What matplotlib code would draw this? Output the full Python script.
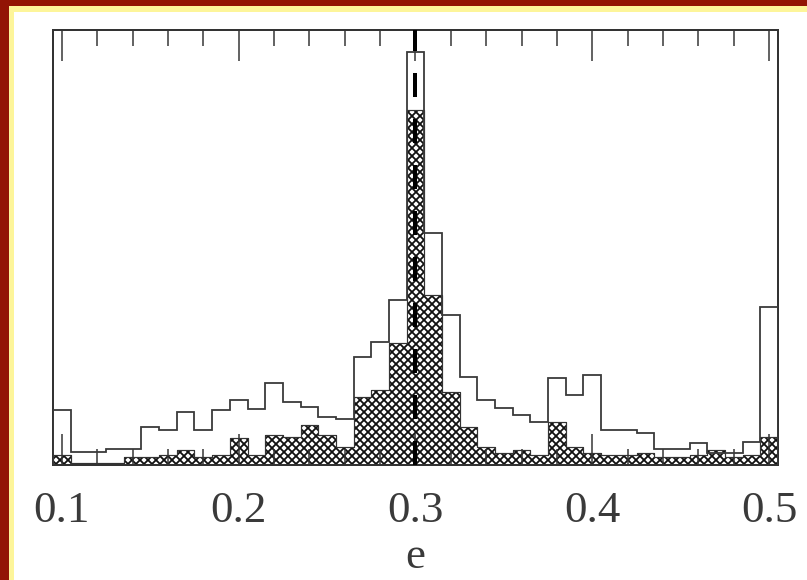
import matplotlib
matplotlib.use("Agg")
import matplotlib.pyplot as plt
import numpy as np
from matplotlib.patches import Rectangle
from matplotlib.ticker import MultipleLocator

# bin centres (eccentricity) and counts
e_centers = np.round(np.arange(0.10, 0.505, 0.01), 2)
all_counts = [55, 13, 13, 16, 16, 38, 35, 53, 35, 55,
              65, 56, 82, 63, 58, 48, 46, 108, 123, 165,
              413, 232, 150, 88, 65, 57, 50, 43, 87, 70,
              90, 35, 35, 32, 16, 16, 22, 12, 12, 23,
              158]
sel_counts = [10, 2, 2, 2, 8, 8, 10, 15, 8, 10,
              27, 10, 30, 28, 40, 30, 18, 68, 75, 122,
              355, 170, 73, 38, 18, 12, 15, 10, 43, 18,
              12, 10, 10, 12, 8, 8, 10, 15, 8, 10,
              28]
e_ref = 0.3
tick_vals = [0.1, 0.2, 0.3, 0.4, 0.5]

edges = np.append(e_centers - 0.005, e_centers[-1] + 0.005)

DPI = 72
plt.rcParams['hatch.linewidth'] = 1.8
plt.rcParams['lines.scale_dashes'] = False

fig = plt.figure(figsize=(807 / DPI, 580 / DPI), dpi=DPI)
fig.patch.set_facecolor('white')

# red / yellow frame along top and left edge
W, H = 807.0, 580.0
fig.patches.append(Rectangle((0, 1 - 11 / H), 1, 11 / H, transform=fig.transFigure,
                             color='#fdf59a', zorder=0))
fig.patches.append(Rectangle((0, 0), 13 / W, 1, transform=fig.transFigure,
                             color='#fdf59a', zorder=0))
fig.patches.append(Rectangle((0, 1 - 5 / H), 1, 5 / H, transform=fig.transFigure,
                             color='#921405', zorder=1))
fig.patches.append(Rectangle((0, 0), 8 / W, 1, transform=fig.transFigure,
                             color='#921405', zorder=1))

ax = fig.add_axes([53 / W, 1 - 465 / H, 725 / W, 435 / H])

ax.stairs(sel_counts, edges, fill=True, facecolor='white', edgecolor='#111111',
          hatch='xxx', linewidth=1.0, zorder=1)
ax.stairs(sel_counts, edges, color='#333333', linewidth=1.2, zorder=2)
ax.stairs(all_counts, edges, color='#3a3a3a', linewidth=1.8, zorder=3)
ax.axvline(e_ref, color='black', linewidth=4, linestyle=(0, (24, 22)), zorder=4)

ax.set_xlim(edges[0], edges[-1])
ax.set_ylim(0, max(all_counts) * 1.053)

ax.set_xticks(tick_vals)
ax.set_xticklabels(['%.1f' % v for v in tick_vals])
ax.xaxis.set_minor_locator(MultipleLocator(0.02))
ax.set_yticks([])
ax.tick_params(axis='x', which='both', direction='in', top=True, bottom=True,
               color='#333333', width=1.5)
ax.tick_params(axis='x', which='major', length=31, pad=26,
               labelsize=45, labelcolor='#3a3a3a')
ax.tick_params(axis='x', which='minor', length=16)
for lab in ax.get_xticklabels():
    lab.set_family('Liberation Serif')

for sp in ax.spines.values():
    sp.set_color('#333333')
    sp.set_linewidth(2)

ax.set_xlabel('e', family='Liberation Serif', fontsize=45, color='#3a3a3a', labelpad=6)

fig.savefig('out.png', dpi=DPI, facecolor=fig.get_facecolor())
